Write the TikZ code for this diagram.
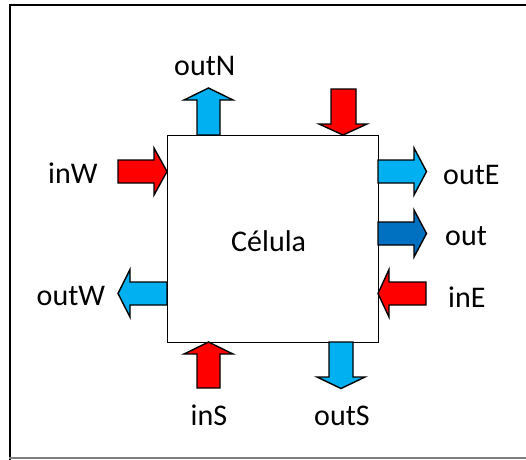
\documentclass[tikz,border=0pt]{standalone}
\usepackage{fontspec}
\setmainfont{Carlito}
\definecolor{inred}{HTML}{FF0000}
\definecolor{outblue}{HTML}{00B0F0}
\definecolor{darkout}{HTML}{0070C0}
\begin{document}
\begin{tikzpicture}[x=1pt,y=-1pt,
  lbl/.style={anchor=base west,inner sep=0pt,font=\fontsize{30}{36}\selectfont},
  arr/.style={draw=black,line width=1.4pt,line join=miter},
  inarr/.style={arr,fill=inred},
  outarr/.style={arr,fill=outblue},
  darr/.style={arr,fill=darkout}]
\useasboundingbox (0,0) rectangle (526,459);
\draw[line width=2.2pt] (10,460) -- (10,5) -- (527,5);
\draw[line width=1.6pt,gray] (9,458) -- (527,458);
\node[draw,line width=1.4pt,minimum width=211pt,minimum height=207pt,inner sep=0pt,anchor=north west] (cell) at (167,135) {};
\node[lbl] (cellt) at (231,251.7) {Célula};
% outN
\draw[outarr] (197,135) -- (197,100) -- (184,100) -- (208.5,88) -- (233,100) -- (220,100) -- (220,135) -- cycle;
% inN
\draw[inarr] (331,89) -- (331,124) -- (319,124) -- (343,135) -- (367,124) -- (356,124) -- (356,89) -- cycle;
% inW
\draw[inarr] (118,160) -- (154,160) -- (154,148) -- (167,171.5) -- (154,195) -- (154,183) -- (118,183) -- cycle;
% outE
\draw[outarr] (378,160) -- (414,160) -- (414,148) -- (426.5,171.5) -- (414,195) -- (414,183) -- (378,183) -- cycle;
% out
\draw[darr] (378,222) -- (414,222) -- (414,210) -- (426.5,233.5) -- (414,257) -- (414,245) -- (378,245) -- cycle;
% inE
\draw[inarr] (426,282) -- (389,282) -- (389,269.5) -- (378,293.5) -- (389,317) -- (389,305) -- (426,305) -- cycle;
% outW
\draw[outarr] (167,282) -- (130,282) -- (130,269.5) -- (118,293.5) -- (130,317) -- (130,305) -- (167,305) -- cycle;
% inS
\draw[inarr] (197,388) -- (197,354) -- (184,354) -- (208.5,342) -- (233,354) -- (220,354) -- (220,388) -- cycle;
% outS
\draw[outarr] (329,342) -- (329,377) -- (317,377) -- (341,388.5) -- (365,377) -- (353,377) -- (353,342) -- cycle;
% labels
\node[lbl] (loutN) at (174,75) {outN};
\node[lbl] (linW) at (48,183.3) {inW};
\node[lbl] (loutW) at (36.5,305) {outW};
\node[lbl] (loutE) at (443,184.3) {outE};
\node[lbl] (lout) at (445,245.7) {out};
\node[lbl] (linE) at (448,307.7) {inE};
\node[lbl] (linS) at (190.5,425) {inS};
\node[lbl] (loutS) at (314,425) {outS};
\end{tikzpicture}
\end{document}
